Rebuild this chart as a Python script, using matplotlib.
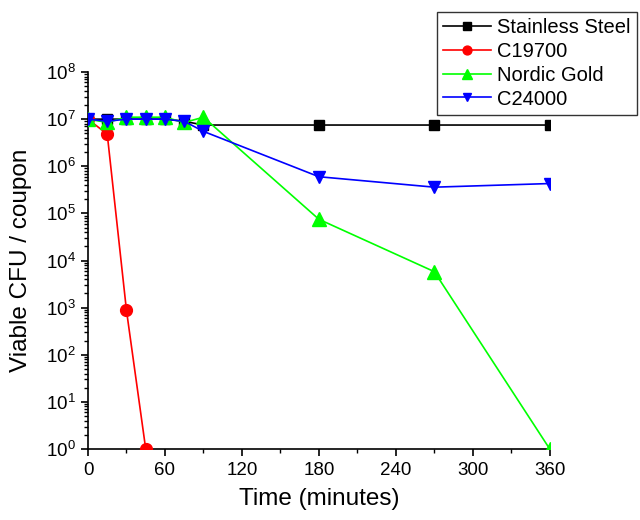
"""Выживаемость бактерий на разных металлических купонах."""

import matplotlib
matplotlib.use("Agg")
import matplotlib.pyplot as plt
from matplotlib.ticker import LogLocator, MultipleLocator, LogFormatterMathtext

plt.rcParams["font.family"] = ["Liberation Sans", "DejaVu Sans"]
plt.rcParams["mathtext.fontset"] = "custom"
plt.rcParams["mathtext.rm"] = "Liberation Sans"
plt.rcParams["mathtext.it"] = "Liberation Sans:italic"

# Данные (время в минутах)
time_steel = [0, 15, 30, 45, 60, 75, 90, 180, 270, 360]
cfu_steel = [1e7, 1e7, 1e7, 1e7, 1e7, 9e6, 7.5e6, 7.5e6, 7.5e6, 7.5e6]

time_c19700 = [0, 15, 30, 45]
cfu_c19700 = [1e7, 4.8e6, 870, 1]

time_nordic = [0, 15, 30, 45, 60, 75, 90, 180, 270, 360]
cfu_nordic = [1e7, 8.5e6, 1.1e7, 1.1e7, 1.1e7, 8.5e6, 1.1e7, 7.5e4, 5.8e3, 1]

time_c24000 = [0, 15, 30, 45, 60, 75, 90, 180, 270, 360]
cfu_c24000 = [1e7, 9e6, 1e7, 1e7, 1e7, 9e6, 5.5e6, 6e5, 3.6e5, 4.3e5]

x_ticks = [0, 60, 120, 180, 240, 300, 360]


def main() -> None:
    fig = plt.figure(figsize=(6.4, 5.2), dpi=100)
    ax = fig.add_axes([0.1375, 0.1365, 0.7215, 0.725])

    ax.plot(time_steel, cfu_steel, "s-", color="black", markersize=7,
            lw=1.2, label="Stainless Steel", zorder=3)
    ax.plot(time_c19700, cfu_c19700, "o-", color="red", markersize=8.5,
            lw=1.2, label="C19700", zorder=3)
    ax.plot(time_nordic, cfu_nordic, "^-", color="#00ff00", markersize=9.5,
            lw=1.2, label="Nordic Gold", zorder=3)
    ax.plot(time_c24000, cfu_c24000, "v-", color="blue", markersize=8.5,
            lw=1.2, label="C24000", zorder=4)

    ax.set_yscale("log")
    ax.set_xlim(0, 360)
    ax.set_ylim(1, 1e8)
    ax.set_xticks(x_ticks)
    ax.xaxis.set_minor_locator(MultipleLocator(30))
    ax.yaxis.set_major_locator(LogLocator(base=10, numticks=20))
    ax.yaxis.set_minor_locator(LogLocator(base=10, subs=range(2, 10), numticks=20))
    ax.yaxis.set_major_formatter(LogFormatterMathtext())

    ax.spines["top"].set_visible(False)
    ax.spines["right"].set_visible(False)
    ax.spines["left"].set_linewidth(1.2)
    ax.spines["bottom"].set_linewidth(1.2)
    ax.tick_params(which="major", direction="out", length=5, width=1.2,
                   labelsize=13.5, pad=4)
    ax.tick_params(which="minor", direction="out", length=3, width=1)

    ax.set_xlabel("Time (minutes)", fontsize=17.5, labelpad=7)
    ax.set_ylabel("Viable CFU / coupon", fontsize=17.5, labelpad=10)

    leg = fig.legend(loc="upper right", bbox_to_anchor=(637 / 640, 1 - 12 / 520),
                     fontsize=14.5, frameon=True, fancybox=False,
                     edgecolor="black", handlelength=2.4, borderpad=0.3,
                     labelspacing=0.24, handletextpad=0.3, markerscale=0.75,
                     borderaxespad=0)
    leg.get_frame().set_linewidth(1.0)

    fig.savefig("out.png", dpi=100)


if __name__ == "__main__":
    main()
